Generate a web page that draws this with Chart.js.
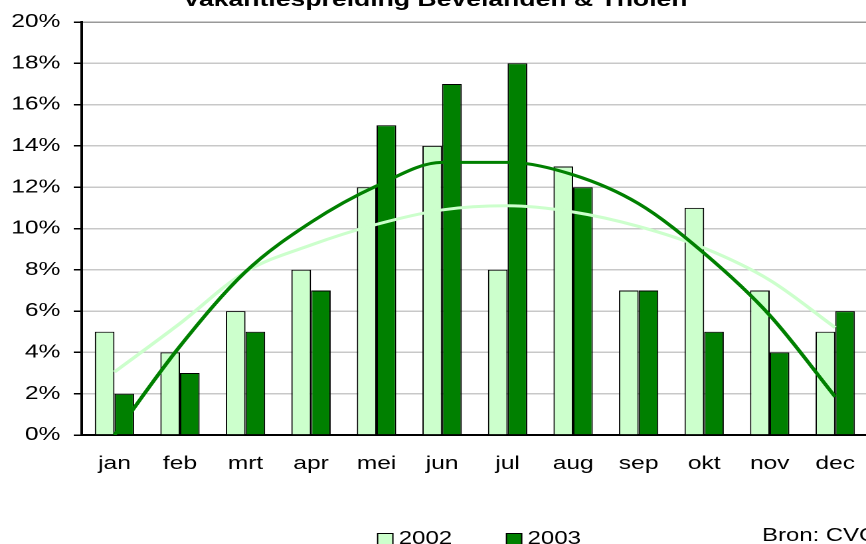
<!DOCTYPE html>
<html>
<head>
<meta charset="utf-8">
<script src="https://cdn.jsdelivr.net/npm/chart.js@4.4.0/dist/chart.umd.min.js"></script>
<style>
  html, body { margin: 0; padding: 0; background: #fff; overflow: hidden; }
  /* het origineel is horizontaal uitgerekt, dus canvas ook uitrekken */
  #grafiek { display: block; transform: scaleX(1.3282); transform-origin: 0 0; }
</style>
</head>
<body>
<canvas id="grafiek" width="656" height="544"></canvas>
<script>
// Maanden en percentages
const maanden = ['jan', 'feb', 'mrt', 'apr', 'mei', 'jun', 'jul', 'aug', 'sep', 'okt', 'nov', 'dec'];
const waarden2002 = [5, 4, 6, 8, 12, 14, 8, 13, 7, 11, 7, 5];
const waarden2003 = [2, 3, 5, 7, 15, 17, 18, 12, 7, 5, 4, 6];
// trendlijnen
const trend2002 = [3.05, 5.4, 7.9, 9.2, 10.2, 10.9, 11.1, 10.8, 10.1, 9.05, 7.5, 5.2];
const trend2003 = [0.0, 4.3, 7.9, 10.3, 12.06, 13.2, 13.2, 12.6, 11.2, 8.8, 5.8, 1.85];
const titel = 'Vakantiespreiding Bevelanden & Tholen';
const bron = 'Bron: CVO';

const lettertype = "'Liberation Sans', Arial, sans-serif";

// Titel, legenda en bron zelf tekenen
const extraTekst = {
    id: 'extraTekst',
    afterDraw(chart) {
        const ctx = chart.ctx;
        ctx.save();
        ctx.fillStyle = '#000';
        ctx.textBaseline = 'alphabetic';
        ctx.font = 'bold 20px ' + lettertype;
        ctx.textAlign = 'center';
        ctx.fillText(titel, 327.6, 6);

        ctx.font = '18px ' + lettertype;
        ctx.textAlign = 'left';
        const items = [
            { tekst: '2002', kleur: '#ccffcc', x: 284.3 },
            { tekst: '2003', kleur: '#008000', x: 381.3 }
        ];
        items.forEach(item => {
            ctx.fillStyle = item.kleur;
            ctx.strokeStyle = '#000';
            ctx.lineWidth = 1;
            ctx.fillRect(item.x, 533.5, 11.5, 12);
            ctx.strokeRect(item.x, 533.5, 11.5, 12);
            ctx.fillStyle = '#000';
            ctx.fillText(item.tekst, item.x + 16, 544);
        });
        ctx.fillText(bron, 573.7, 541);
        ctx.restore();
    }
};

const ctx = document.getElementById('grafiek').getContext('2d');
const chart = new Chart(ctx, {
    type: 'bar',
    data: {
        labels: maanden,
        datasets: [
            {
                type: 'line',
                label: 'trend 2003',
                data: trend2003,
                borderColor: '#008000',
                borderWidth: 3,
                pointRadius: 0,
                cubicInterpolationMode: 'monotone',
                fill: false,
                order: 0
            },
            {
                type: 'line',
                label: 'trend 2002',
                data: trend2002,
                borderColor: '#ccffcc',
                borderWidth: 3,
                pointRadius: 0,
                cubicInterpolationMode: 'monotone',
                fill: false,
                order: 1
            },
            {
                label: '2002',
                data: waarden2002,
                backgroundColor: '#ccffcc',
                borderColor: '#000',
                borderWidth: 1,
                categoryPercentage: 0.6,
                barPercentage: 1,
                order: 2
            },
            {
                label: '2003',
                data: waarden2003,
                backgroundColor: '#008000',
                borderColor: '#000',
                borderWidth: 1,
                categoryPercentage: 0.6,
                barPercentage: 1,
                order: 2
            }
        ]
    },
    options: {
        responsive: false,
        devicePixelRatio: 2,
        animation: false,
        layout: { padding: { top: 22, right: 2.5, bottom: 0, left: 0 } },
        plugins: {
            legend: { display: false },
            title: { display: false },
            tooltip: { enabled: false }
        },
        scales: {
            x: {
                grid: { display: false },
                border: { display: true, color: '#000', width: 2 },
                ticks: {
                    color: '#000',
                    padding: 10,
                    font: { family: lettertype, size: 18.5 }
                },
                afterFit: function (scale) { scale.height = 109; }
            },
            y: {
                min: 0,
                max: 20,
                ticks: {
                    stepSize: 2,
                    color: '#000',
                    padding: 10,
                    font: { family: lettertype, size: 18.5 },
                    callback: function (v) { return v + '%'; }
                },
                grid: {
                    color: function (c) { return c.tick && c.tick.value === 20 ? '#999999' : '#c8c8c8'; },
                    lineWidth: 1.5,
                    drawTicks: true,
                    tickLength: 6,
                    tickColor: '#000',
                    tickWidth: 1.5
                },
                border: { display: true, color: '#000', width: 2 },
                afterFit: function (scale) { scale.width = 61.5; }
            }
        }
    },
    plugins: [extraTekst]
});
</script>
</body>
</html>
